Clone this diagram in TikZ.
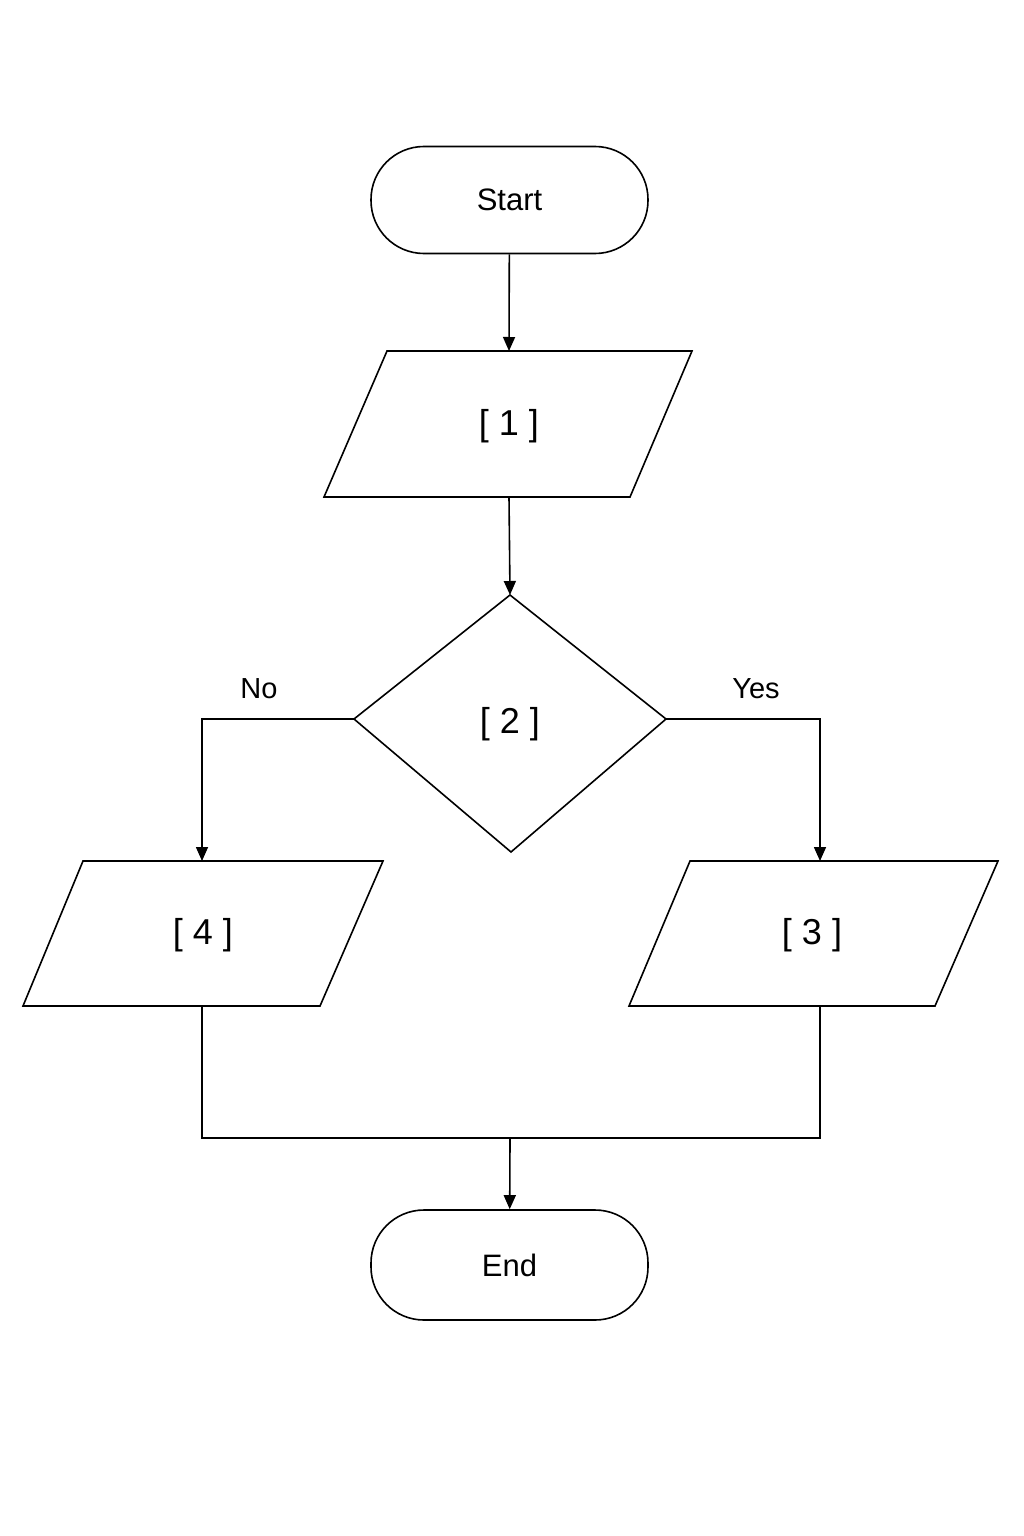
\documentclass[tikz,border=0pt]{standalone}
\usepackage{fontspec}
\setmainfont{Liberation Sans}
\usetikzlibrary{shapes.geometric,arrows.meta}
\begin{document}
\begin{tikzpicture}[x=1pt,y=-1pt,
  line/.style={draw=black,line width=1.6pt},
  arr/.style={line,-{Triangle[length=14pt,width=12pt]}},
  term/.style={line,rounded corners=53pt,minimum width=277pt,minimum height=107pt,inner sep=0,font=\fontsize{31}{36}\selectfont},
  lbl/.style={font=\fontsize{36}{40}\selectfont},
  small/.style={font=\fontsize{29}{34}\selectfont}]
\useasboundingbox[fill=white] (0,0) rectangle (1024,1536);
\node[term] (start) at (509.5,200) {Start};
\node[term,minimum height=110pt] (end) at (509.5,1265) {End};
% parallelogram 1
\draw[line] (387,351) coordinate (p1t) -- (692,351) -- (630,497) -- (324,497) -- cycle;
\coordinate (p1top) at (509,351); \coordinate (p1bot) at (509,497);
\node[lbl] (l1) at (509,426) {[ 1 ]};
% diamond
\draw[line] (510,595) coordinate (dtop) -- (666,719) coordinate (dright) -- (511,852) -- (354,719) coordinate (dleft) -- cycle;
\node[lbl] (l2) at (510,724) {[ 2 ]};
% parallelogram 4
\draw[line] (83,861) -- (383,861) -- (320,1006) -- (23,1006) -- cycle;
\coordinate (p4top) at (202,861); \coordinate (p4bot) at (202,1006);
\node[lbl] (l4) at (203,935) {[ 4 ]};
% parallelogram 3
\draw[line] (690,861) -- (998,861) -- (935,1006) -- (629,1006) -- cycle;
\coordinate (p3top) at (820,861); \coordinate (p3bot) at (820,1006);
\node[lbl] (l3) at (812,935) {[ 3 ]};
% connectors
\draw[arr] (start) -- (p1top);
\draw[arr] (p1bot) -- (dtop);
\draw[arr] (dleft) -| (p4top);
\draw[arr] (dright) -| (p3top);
\coordinate (merge) at (510,1138);
\draw[line] (p4bot) |- (merge) -| (p3bot);
\draw[arr] (merge) -- (end);
\node[small] (no) at (259,689) {No};
\node[small] (yes) at (756,689) {Yes};
\end{tikzpicture}
\end{document}
